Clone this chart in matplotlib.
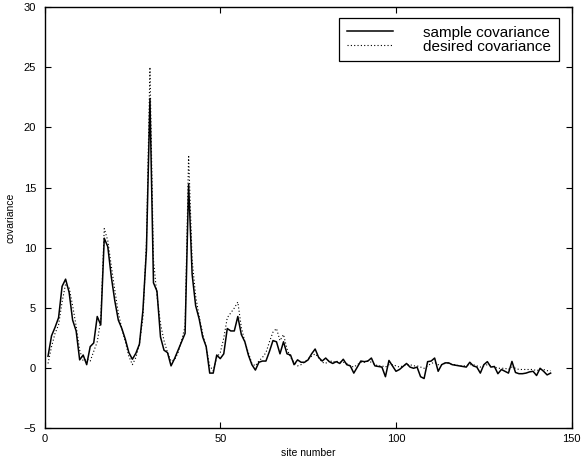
import numpy as np
import matplotlib
matplotlib.use("Agg")
import matplotlib.pyplot as plt

plt.rcParams['font.family'] = ['Liberation Sans', 'DejaVu Sans']

# site numbers
sites = list(range(1, 145))

# sample covariance (solid)
sample_cov = [
    1.0, 2.7, 3.4, 4.2, 6.8, 7.4, 6.3, 4.0, 3.1, 0.7,
    1.1, 0.3, 1.8, 2.1, 4.3, 3.6, 10.8, 10.1, 7.6, 5.6,
    4.0, 3.3, 2.4, 1.3, 0.75, 1.25, 2.0, 4.8, 9.8, 22.4,
    7.1, 6.4, 2.6, 1.5, 1.3, 0.2, 0.8, 1.5, 2.2, 2.9,
    15.3, 7.8, 5.2, 4.1, 2.6, 1.8, -0.4, -0.4, 1.1, 0.8,
    1.2, 3.3, 3.1, 3.1, 4.3, 2.8, 2.2, 1.1, 0.3, -0.15,
    0.5, 0.6, 0.6, 1.4, 2.3, 2.2, 1.2, 2.2, 1.2, 1.1,
    0.3, 0.7, 0.5, 0.5, 0.7, 1.2, 1.6, 0.9, 0.6, 0.85,
    0.55, 0.4, 0.55, 0.4, 0.75, 0.3, 0.2, -0.4, 0.1, 0.6,
    0.55, 0.6, 0.85, 0.2, 0.15, 0.1, -0.7, 0.65, 0.2, -0.25,
    -0.1, 0.15, 0.4, 0.1, 0.0, 0.1, -0.7, -0.85, 0.55, 0.6,
    0.85, -0.25, 0.3, 0.45, 0.45, 0.3, 0.25, 0.2, 0.15, 0.1,
    0.5, 0.2, 0.1, -0.4, 0.3, 0.55, 0.1, 0.15, -0.45, -0.1,
    -0.25, -0.4, 0.57, -0.35, -0.45, -0.45, -0.4, -0.3, -0.25, -0.6,
    0.0, -0.25, -0.55, -0.4,
]

# desired covariance (dotted)
desired_cov = [
    0.4, 1.8, 2.9, 3.6, 5.5, 7.0, 6.7, 5.2, 3.5, 1.5,
    0.6, 0.8, 0.6, 1.4, 2.2, 4.0, 11.6, 10.6, 8.5, 6.5,
    4.6, 3.3, 2.2, 1.0, 0.3, 0.9, 2.0, 4.2, 10.5, 25.0,
    9.0, 6.0, 3.7, 2.3, 1.3, 0.6, 0.7, 1.3, 2.3, 3.5,
    17.7, 9.0, 6.0, 4.3, 2.9, 1.7, 0.2, -0.2, 0.9, 1.3,
    2.5, 4.2, 4.6, 5.0, 5.5, 3.4, 2.2, 1.3, 0.4, 0.2,
    0.6, 0.9, 1.3, 2.2, 3.0, 3.3, 2.3, 2.8, 1.6, 0.9,
    0.5, 0.2, 0.3, 0.5, 0.8, 1.0, 1.2, 0.9, 0.5, 0.4,
    0.7, 0.5, 0.6, 0.5, 0.5, 0.4, 0.2, 0.1, 0.3, 0.5,
    0.5, 0.6, 0.5, 0.3, 0.2, 0.2, 0.1, 0.3, 0.3, 0.2,
    0.1, 0.2, 0.3, 0.3, 0.2, 0.2, 0.1, 0.0, 0.2, 0.4,
    0.5, 0.3, 0.3, 0.4, 0.4, 0.3, 0.3, 0.2, 0.2, 0.2,
    0.3, 0.3, 0.2, 0.1, 0.2, 0.3, 0.2, 0.1, 0.0, 0.0,
    0.0, -0.1, 0.1, 0.0, -0.1, -0.1, -0.1, -0.1, -0.1, -0.2,
    -0.1, -0.1, -0.2, -0.2,
]

x_ticks = [0, 50, 100, 150]
y_ticks = [-5, 0, 5, 10, 15, 20, 25, 30]
labels = ["sample covariance", "desired covariance"]

fig = plt.figure(figsize=(5.88, 4.65), dpi=100)
ax = fig.add_axes([0.0757, 0.0785, 0.8966, 0.9065])

ax.plot(sites, sample_cov, color='black', linewidth=1.1, linestyle='-', label=labels[0])
ax.plot(sites, desired_cov, color='black', linewidth=0.8, linestyle=(0, (1, 2)), label=labels[1])

ax.set_xlim(0, 150)
ax.set_ylim(-5, 30)
ax.set_xticks(x_ticks)
ax.set_yticks(y_ticks)
ax.tick_params(direction='in', length=4, width=0.8, top=True, right=True, labelsize=8)
ax.tick_params(axis='y', pad=6)
ax.tick_params(axis='x', pad=4)
for s in ax.spines.values():
    s.set_linewidth(1.0)

ax.set_xlabel("site number", fontsize=7.5, labelpad=3)
ax.set_ylabel("covariance", fontsize=7.5, labelpad=6)

leg = ax.legend(loc='upper right', bbox_to_anchor=(0.976, 0.974), fontsize=11,
                frameon=True, fancybox=False, edgecolor='black', framealpha=1,
                handlelength=3.0, handletextpad=2.0, borderpad=0.5,
                labelspacing=0.0, borderaxespad=0.0)
leg.get_frame().set_linewidth(0.9)

fig.savefig("out.png", dpi=100)
